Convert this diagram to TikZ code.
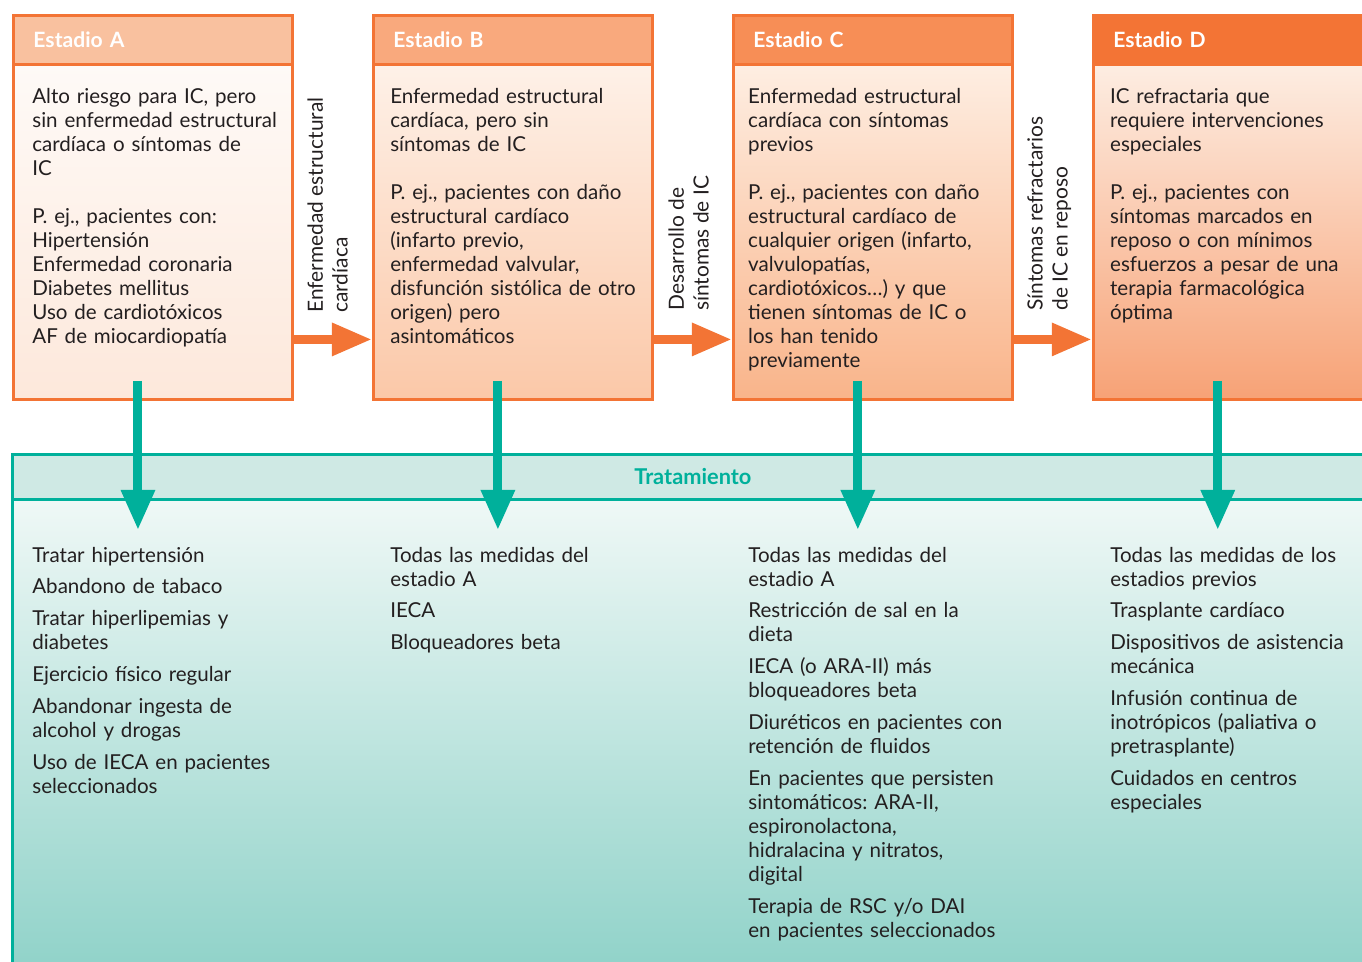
\documentclass[tikz,border=0pt]{standalone}
\usepackage{fontspec}
\setmainfont{Lato}
\usetikzlibrary{arrows.meta,positioning}
\definecolor{edgeor}{HTML}{F37435}
\definecolor{hdA}{HTML}{F9C19F}
\definecolor{hdB}{HTML}{F9A97D}
\definecolor{hdC}{HTML}{F78E56}
\definecolor{hdD}{HTML}{F37435}
\definecolor{bgAt}{HTML}{FEFAF7}
\definecolor{bgAb}{HTML}{FDE8DB}
\definecolor{bgBt}{HTML}{FEF1E8}
\definecolor{bgBb}{HTML}{FBC8A8}
\definecolor{bgCt}{HTML}{FEEEE2}
\definecolor{bgCb}{HTML}{F9B48A}
\definecolor{bgDt}{HTML}{FDEDE2}
\definecolor{bgDb}{HTML}{F7A276}
\definecolor{curegreen}{HTML}{00B09B}
\definecolor{curehead}{HTML}{CFE9E4}
\definecolor{curetop}{HTML}{EFF8F6}
\definecolor{curebot}{HTML}{8AD0C6}
\definecolor{inkgray}{HTML}{231F20}
\frenchspacing

\begin{document}
\begin{tikzpicture}[x=0.02cm, y=-0.02cm,
  every node/.style={font=\fontsize{11.7}{13.66}\selectfont, text=inkgray},
  stagehead/.style={draw=edgeor, line width=0.06cm, minimum width=5.58cm, minimum height=0.98cm,
    inner xsep=0.4cm, inner ysep=0pt, text width=4.78cm, align=left,
    font=\fontsize{12}{13}\selectfont\bfseries, text=white},
  stagebody/.style={draw=edgeor, line width=0.06cm, minimum width=5.58cm, minimum height=6.7cm, inner sep=0pt},
  stagetext/.style={anchor=base west, inner sep=0pt, text width=5.3cm, align=left},
  turned/.style={rotate=90, anchor=north west, inner sep=0pt, align=left,
    font=\fontsize{11.9}{14.2}\selectfont},
  advance/.style={edgeor, line width=0.18cm, -{Triangle[length=0.8cm, width=0.62cm]}},
  cure/.style={curegreen, line width=0.18cm, -{Triangle[length=0.8cm, width=0.64cm]}},
  curetext/.style={anchor=base west, inner sep=0pt, text width=5.6cm, align=left}]
\useasboundingbox (0,0) rectangle (1362,962);
\clip (0,0) rectangle (1362,962);

% estadios
\node[stagehead, fill=hdA, anchor=north west] (hA) at (12,14) {Estadio A};
\node[stagehead, fill=hdB, right=1.56cm of hA] (hB) {Estadio B};
\node[stagehead, fill=hdC, right=1.56cm of hB] (hC) {Estadio C};
\node[stagehead, fill=hdD, right=1.56cm of hC] (hD) {Estadio D};
\foreach \s in {A,B,C,D}
  \node[stagebody, top color=bg\s t, bottom color=bg\s b, draw=edgeor, below=-0.06cm of h\s] (body\s) {};

\node[stagetext] (txtA) at ([shift={(20,38)}]hA.south west)
  {Alto riesgo para IC, pero\\sin enfermedad estructural\\cardíaca o síntomas de\\IC\\[13.66pt]
   P. ej., pacientes con:\\Hipertensión\\Enfermedad coronaria\\Diabetes mellitus\\Uso de cardiotóxicos\\AF de miocardiopatía};
\node[stagetext] (txtB) at ([shift={(18,38)}]hB.south west)
  {Enfermedad estructural\\cardíaca, pero sin\\síntomas de IC\\[13.66pt]
   P. ej., pacientes con daño\\estructural cardíaco\\(infarto previo,\\enfermedad valvular,\\disfunción sistólica de otro\\origen) pero\\asintomáticos};
\node[stagetext] (txtC) at ([shift={(16,38)}]hC.south west)
  {Enfermedad estructural\\cardíaca con síntomas\\previos\\[13.66pt]
   P. ej., pacientes con daño\\estructural cardíaco de\\cualquier origen (infarto,\\valvulopatías,\\cardiotóxicos…) y que\\tienen síntomas de IC o\\los han tenido\\previamente};
\node[stagetext] (txtD) at ([shift={(18,38)}]hD.south west)
  {IC refractaria que\\requiere intervenciones\\especiales\\[13.66pt]
   P. ej., pacientes con\\síntomas marcados en\\reposo o con mínimos\\esfuerzos a pesar de una\\terapia farmacológica\\óptima};

% transiciones
\draw[advance] ([yshift=-2.15cm]bodyA.east) -- ([yshift=-2.15cm]bodyB.west);
\draw[advance] ([yshift=-2.15cm]bodyB.east) -- ([yshift=-2.15cm]bodyC.west);
\draw[advance] ([yshift=-2.15cm]bodyC.east) -- ([yshift=-2.15cm]bodyD.west);
\node[turned] (lblAB) at (307,313) {Enfermedad estructural\\cardíaca};
\node[turned] (lblBC) at (668,311) {Desarrollo de\\síntomas de IC};
\node[turned] (lblCD) at (1027,311) {Síntomas refractarios\\de IC en reposo};

% tratamiento
\node[draw=curegreen, fill=curehead, line width=0.06cm, minimum width=27.22cm, minimum height=0.9cm,
  anchor=north west, font=\fontsize{12.4}{13}\selectfont\bfseries, text=curegreen] (tHead) at (11,453) {Tratamiento};
\node[draw=curegreen, top color=curetop, bottom color=curebot, line width=0.06cm, minimum width=27.22cm,
  minimum height=10cm, below=-0.06cm of tHead] (tBody) {};

\foreach \s in {A,B,C,D}
  \draw[cure] ([xshift=-0.3cm,yshift=0.4cm]body\s.south) -- ([xshift=-0.3cm,yshift=-0.58cm]body\s.south |- tHead.south);

\node[curetext] (cureA) at (32,562)
  {Tratar hipertensión\\[0.16cm]Abandono de tabaco\\[0.16cm]Tratar hiperlipemias y\\diabetes\\[0.16cm]Ejercicio físico regular\\[0.16cm]Abandonar ingesta de\\alcohol y drogas\\[0.16cm]Uso de IECA en pacientes\\seleccionados};
\node[curetext] (cureB) at (390,562)
  {Todas las medidas del\\estadio A\\[0.16cm]IECA\\[0.16cm]Bloqueadores beta};
\node[curetext] (cureC) at (748,562)
  {Todas las medidas del\\estadio A\\[0.16cm]Restricción de sal en la\\dieta\\[0.16cm]IECA (o ARA-II) más\\bloqueadores beta\\[0.16cm]Diuréticos en pacientes con\\retención de fluidos\\[0.16cm]En pacientes que persisten\\sintomáticos: ARA-II,\\espironolactona,\\hidralacina y nitratos,\\digital\\[0.16cm]Terapia de RSC y/o DAI\\en pacientes seleccionados};
\node[curetext] (cureD) at (1110,562)
  {Todas las medidas de los\\estadios previos\\[0.16cm]Trasplante cardíaco\\[0.16cm]Dispositivos de asistencia\\mecánica\\[0.16cm]Infusión continua de\\inotrópicos (paliativa o\\pretrasplante)\\[0.16cm]Cuidados en centros\\especiales};
\end{tikzpicture}
\end{document}
